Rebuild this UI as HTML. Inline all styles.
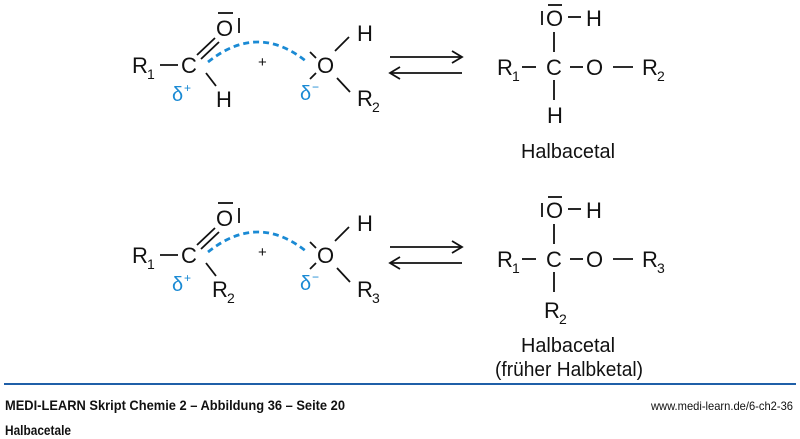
<!DOCTYPE html>
<html><head><meta charset="utf-8"><style>
html,body{margin:0;padding:0;background:#fff;}
svg{display:block;}
text{font-family:"Liberation Sans Narrow","Liberation Sans",sans-serif;fill:#111;}
.c{font-size:22px;}
.s{font-size:14px;}
.b{fill:#1a8ad4;font-size:20px;}
line,path{stroke:#111;stroke-width:1.8;fill:none;}
</style></head><body>
<svg width="800" height="439" viewBox="0 0 800 439" xmlns="http://www.w3.org/2000/svg">
<defs>
<g id="react">
  <text class="c" x="132" y="73">R</text><text class="s" x="147" y="79">1</text>
  <line x1="160" y1="65" x2="178" y2="65"/>
  <text class="c" x="181" y="73">C</text>
  <line x1="197" y1="55" x2="215" y2="38"/><line x1="201" y1="59" x2="219" y2="42"/>
  <text class="c" x="216" y="36">O</text>
  <line x1="218" y1="13" x2="233" y2="13"/>
  <line x1="239" y1="18" x2="239" y2="33"/>
  <line x1="206" y1="73" x2="216" y2="86"/>
  <text class="b" x="172" y="101">δ</text><text class="b" x="184" y="92" style="font-size:12px">+</text>
  <path d="M208 62 Q258 22 307 62" style="stroke:#1a8ad4;stroke-width:2.8;stroke-dasharray:6 4"/>
  <text x="258" y="67" style="font-size:15px">+</text>
  <text class="c" x="317" y="73">O</text>
  <line x1="310" y1="52" x2="316" y2="58"/><line x1="310" y1="79" x2="316" y2="73"/>
  <line x1="335" y1="51" x2="349" y2="37"/>
  <line x1="337" y1="78" x2="350" y2="92"/>
  <text class="b" x="300" y="100">δ</text><text class="b" x="312" y="91" style="font-size:12px">−</text>
  <line x1="390" y1="57" x2="462" y2="57"/><path d="M452 51 L462 57 L452 63"/>
  <line x1="390" y1="73" x2="462" y2="73"/><path d="M400 67 L390 73 L400 79"/>
</g>
<g id="prod">
  <text class="c" x="497" y="75">R</text><text class="s" x="512" y="81">1</text>
  <line x1="522" y1="67" x2="536" y2="67"/>
  <text class="c" x="546" y="75">C</text>
  <line x1="570" y1="67" x2="583" y2="67"/>
  <text class="c" x="586" y="75">O</text>
  <line x1="613" y1="67" x2="633" y2="67"/>
  <line x1="554" y1="32" x2="554" y2="52"/>
  <line x1="554" y1="80" x2="554" y2="100"/>
  <line x1="542" y1="11" x2="542" y2="25"/>
  <text class="c" x="546" y="26">O</text>
  <line x1="548" y1="5" x2="562" y2="5"/>
  <line x1="568" y1="17" x2="581" y2="17"/>
  <text class="c" x="586" y="26">H</text>
</g>
</defs>
<use href="#react"/>
<text class="c" x="216" y="107">H</text>
<text class="c" x="357" y="41">H</text>
<text class="c" x="357" y="106">R</text><text class="s" x="372" y="112">2</text>
<use href="#prod"/>
<text class="c" x="642" y="75">R</text><text class="s" x="657" y="81">2</text>
<text class="c" x="547" y="123">H</text>
<text x="521" y="158" style="font-size:20px" textLength="94" lengthAdjust="spacingAndGlyphs">Halbacetal</text>

<g transform="translate(0,190)"><use href="#react"/></g>
<text class="c" x="212" y="297">R</text><text class="s" x="227" y="303">2</text>
<text class="c" x="357" y="231">H</text>
<text class="c" x="357" y="297">R</text><text class="s" x="372" y="303">3</text>
<g transform="translate(0,192)"><use href="#prod"/></g>
<text class="c" x="642" y="267">R</text><text class="s" x="657" y="273">3</text>
<text class="c" x="544" y="318">R</text><text class="s" x="559" y="324">2</text>
<text x="521" y="352" style="font-size:20px" textLength="94" lengthAdjust="spacingAndGlyphs">Halbacetal</text>
<text x="495" y="376" style="font-size:20px" textLength="148" lengthAdjust="spacingAndGlyphs">(früher Halbketal)</text>

<rect x="4" y="383" width="792" height="2" fill="#1f5fa8"/>
<text x="5" y="410" style="font-size:14px;font-weight:bold" textLength="340" lengthAdjust="spacingAndGlyphs">MEDI-LEARN Skript Chemie 2 – Abbildung 36 – Seite 20</text>
<text x="651" y="410" style="font-size:12px" textLength="142" lengthAdjust="spacingAndGlyphs">www.medi-learn.de/6-ch2-36</text>
<text x="5" y="435" style="font-size:14px;font-weight:bold" textLength="66" lengthAdjust="spacingAndGlyphs">Halbacetale</text>
</svg>
</body></html>
